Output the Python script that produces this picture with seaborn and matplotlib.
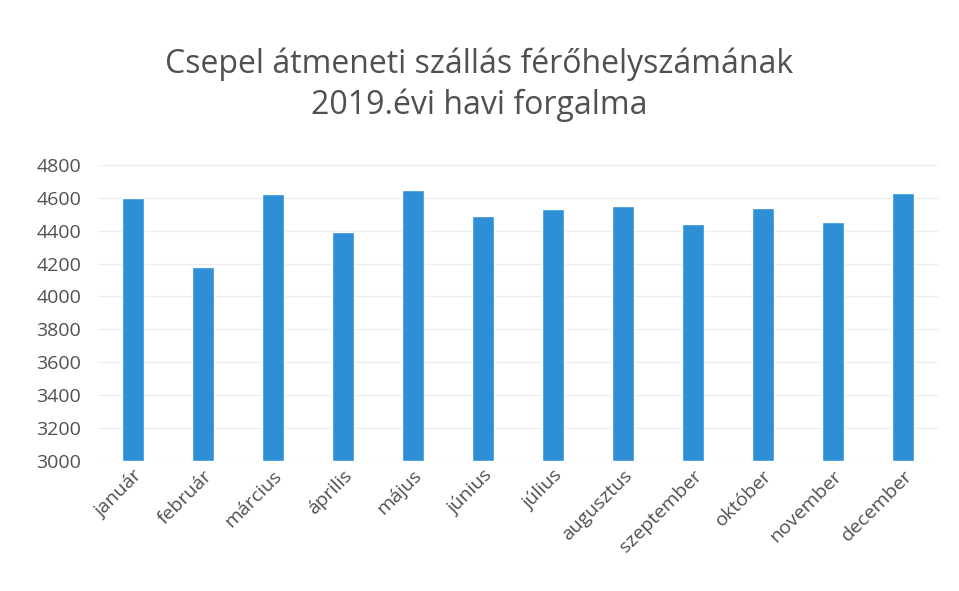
import matplotlib
matplotlib.use("Agg")
import matplotlib.pyplot as plt
import pandas as pd
import seaborn as sns

months = ["január", "február", "március", "április", "május", "június",
          "július", "augusztus", "szeptember", "október", "november", "december"]
values = [4600, 4180, 4620, 4390, 4650, 4490, 4530, 4550, 4440, 4540, 4450, 4630]
y_ticks = [3000, 3200, 3400, 3600, 3800, 4000, 4200, 4400, 4600, 4800]

TITLE = "Csepel átmeneti szállás férőhelyszámának\n2019.évi havi forgalma"
BAR_COLOR = "#2E8FD6"
TEXT_COLOR = "#505050"

df = pd.DataFrame({"honap": months, "forgalom": values})

sns.set_theme(style="white")
plt.rcParams["font.family"] = ["Open Sans", "DejaVu Sans"]

fig = plt.figure(figsize=(9.59, 5.91), dpi=100)
ax = fig.add_axes([0.102, 0.22, 0.876, 0.501])

# bars start at the axis minimum, like the Excel original
sns.barplot(data=df, x="honap", y="forgalom", color=BAR_COLOR, width=0.31,
            saturation=1, ax=ax)
for p in ax.patches:
    h = p.get_height()
    p.set_y(3000)
    p.set_height(h - 3000)

ax.set_ylim(3000, 4800)
ax.set_yticks(y_ticks)
ax.set_xlim(-0.5, len(months) - 0.5)
ax.yaxis.grid(True, color="#ececec", linewidth=0.8)
ax.set_axisbelow(True)
for s in ax.spines.values():
    s.set_visible(False)

ax.set_xlabel("")
ax.set_ylabel("")
ax.tick_params(axis="y", labelsize=14, labelcolor=TEXT_COLOR, pad=12, length=0)
ax.tick_params(axis="x", labelsize=14, labelcolor=TEXT_COLOR, length=0, pad=4)
plt.setp(ax.get_xticklabels(), rotation=45, ha="right", rotation_mode="anchor")

fig.text(0.5, 0.856, TITLE, ha="center", va="center", fontsize=23,
         color=TEXT_COLOR, linespacing=1.3)

fig.savefig("out.png", dpi=100, facecolor="white")
